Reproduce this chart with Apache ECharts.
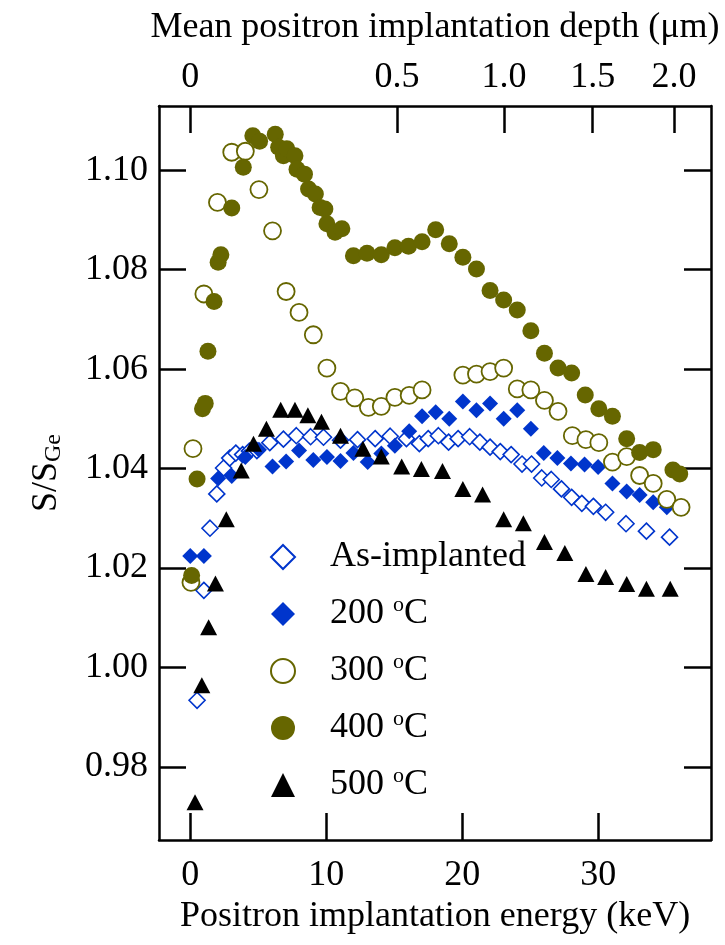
<!DOCTYPE html>
<html>
<head>
<meta charset="utf-8">
<script src="https://cdn.jsdelivr.net/npm/echarts@6/dist/echarts.min.js"></script>
<style>
  html, body { margin: 0; padding: 0; background: #fff; }
  #chart { width: 725px; height: 945px; }
</style>
</head>
<body>
<div id="chart"></div>
<script>
// S/S_Ge vs positron energy (keV)
var asImplanted = [
  [0.5, 0.9934], [1.0, 1.0155], [1.45, 1.028], [1.95, 1.0349], [2.45, 1.0401],
  [2.9, 1.0421], [3.35, 1.0431], [3.85, 1.0428], [4.35, 1.0435], [4.9, 1.0436],
  [5.85, 1.0452], [6.85, 1.0459], [7.8, 1.0466], [8.85, 1.0464], [9.8, 1.0463],
  [11.05, 1.0457], [12.3, 1.0458], [13.6, 1.046], [14.7, 1.0465], [15.9, 1.046],
  [16.85, 1.045], [17.5, 1.046], [18.25, 1.0466], [19.0, 1.0453], [19.7, 1.046],
  [20.55, 1.0464], [21.3, 1.0453], [22.05, 1.0443], [22.8, 1.0434], [23.6, 1.0428],
  [24.4, 1.0409], [25.1, 1.0409], [25.85, 1.0381], [26.55, 1.0378], [27.3, 1.0359],
  [28.05, 1.0342], [28.8, 1.033], [29.65, 1.0324], [30.55, 1.0312], [32.05, 1.0289],
  [33.55, 1.0274], [35.25, 1.0262]
];
var anneal200 = [
  [0, 1.0224], [1.0, 1.0224], [2.05, 1.038], [3.05, 1.0385], [4.05, 1.0423],
  [5.05, 1.0438], [6.05, 1.0404], [7.05, 1.0414], [8.0, 1.0436], [9.05, 1.0417],
  [10.05, 1.0423], [11.05, 1.0415], [12.0, 1.0431], [13.05, 1.0413], [14.05, 1.043],
  [15.05, 1.0446], [16.1, 1.0475], [17.05, 1.0505], [18.05, 1.0513], [19.05, 1.05],
  [20.05, 1.0535], [21.05, 1.0517], [22.05, 1.0531], [23.05, 1.05], [24.05, 1.0517],
  [25.05, 1.048], [26.0, 1.0431], [27.0, 1.0421], [28.0, 1.041], [29.0, 1.0408],
  [30.0, 1.0403], [31.05, 1.037], [32.1, 1.0354], [33.05, 1.0347], [34.05, 1.0332],
  [35.05, 1.0322]
];
var anneal300 = [
  [0.05, 1.0171], [0.2, 1.044], [1.0, 1.0751], [2.0, 1.0935], [3.05, 1.1036],
  [4.05, 1.1038], [5.05, 1.0961], [6.05, 1.0878], [7.05, 1.0756], [8.0, 1.0714],
  [9.05, 1.0669], [10.05, 1.0602], [11.05, 1.0555], [12.1, 1.0542], [13.1, 1.0523],
  [14.05, 1.0525], [15.05, 1.0543], [16.1, 1.0547], [17.05, 1.0558], [20.05, 1.0588],
  [21.05, 1.059], [22.05, 1.0595], [23.05, 1.0602], [24.05, 1.056], [25.05, 1.0558],
  [26.05, 1.0537], [27.05, 1.0515], [28.1, 1.0466], [29.1, 1.0458], [30.05, 1.0452],
  [31.05, 1.0413], [32.1, 1.0424], [33.05, 1.0386], [34.05, 1.037], [35.05, 1.0338],
  [36.1, 1.0322]
];
var anneal400 = [
  [0.1, 1.0185], [0.5, 1.0379], [0.9, 1.052], [1.1, 1.0531], [1.3, 1.0636],
  [1.75, 1.0736], [2.05, 1.0815], [2.25, 1.083], [3.05, 1.0924], [3.9, 1.1006],
  [4.6, 1.1069], [5.1, 1.1058], [6.25, 1.1072], [6.5, 1.1046], [6.85, 1.1029],
  [7.1, 1.1043], [7.7, 1.1029], [7.85, 1.1002], [8.4, 1.0992], [8.7, 1.0962],
  [9.2, 1.0952], [9.55, 1.0925], [9.9, 1.0922], [10.05, 1.0892], [10.65, 1.0875],
  [11.15, 1.0882], [12.0, 1.0828], [13.0, 1.0833], [14.05, 1.083], [15.05, 1.0844],
  [16.05, 1.0847], [17.05, 1.0856], [18.05, 1.088], [19.05, 1.0852], [20.05, 1.0825],
  [21.05, 1.0801], [22.05, 1.0758], [23.05, 1.0739], [24.05, 1.0719], [25.05, 1.0677],
  [26.05, 1.0632], [27.05, 1.0602], [28.05, 1.0592], [29.05, 1.0548], [30.05, 1.052],
  [31.05, 1.0505], [32.1, 1.046], [33.05, 1.0432], [34.05, 1.0438], [35.5, 1.0397],
  [36.0, 1.0389]
];
var anneal500 = [
  [0.35, 0.9729], [0.85, 0.9964], [1.35, 1.0081], [1.85, 1.0169], [2.65, 1.0298],
  [3.75, 1.0396], [4.65, 1.045], [5.6, 1.048], [6.65, 1.0518], [7.7, 1.0518],
  [8.65, 1.0507], [9.65, 1.0494], [11.05, 1.0466], [12.7, 1.044], [14.05, 1.0424],
  [15.55, 1.0404], [17.0, 1.0399], [18.55, 1.0395], [20.05, 1.0359], [21.5, 1.0348],
  [23.05, 1.0298], [24.5, 1.029], [26.05, 1.0252], [27.55, 1.023], [29.1, 1.0188],
  [30.55, 1.0182], [32.1, 1.0168], [33.55, 1.0158], [35.3, 1.0158]
];

var energyTicks = [0, 10, 20, 30];
var sTicks = [0.98, 1.00, 1.02, 1.04, 1.06, 1.08, 1.10];
// top axis: mean depth (um) and the energy it sits at
var depthLabels = ['0', '0.5', '1.0', '1.5', '2.0'];
var depthEnergy = [0, 15.2, 23.07, 29.6, 35.57];

var FONT = '"Liberation Serif", "Times New Roman", serif';
var BLUE = '#0035cc';
var OLIVE = '#666600';

var chart = echarts.init(document.getElementById('chart'));

function frameAxis(extra) {
  return Object.assign({
    type: 'value',
    axisLine: { show: true, onZero: false, lineStyle: { color: '#000', width: 2.5 } },
    splitLine: { show: false },
  }, extra);
}

function ticks(values) {
  return { show: true, inside: true, length: 27, customValues: values, lineStyle: { color: '#000', width: 2.5 } };
}

chart.setOption({
  backgroundColor: '#fff',
  animation: false,
  grid: { left: 159, right: 14, top: 106, bottom: 105 },
  textStyle: { fontFamily: FONT, color: '#000' },
  xAxis: [
    frameAxis({
      position: 'bottom',
      min: -2.3,
      max: 38.3,
      name: 'Positron implantation energy (keV)',
      nameLocation: 'middle',
      nameGap: 58,
      nameTextStyle: { fontSize: 36, color: '#000', fontFamily: FONT },
      axisTick: ticks(energyTicks),
      axisLabel: { customValues: energyTicks, margin: 18, fontSize: 36, color: '#000', fontFamily: FONT },
    }),
    frameAxis({
      position: 'top',
      min: -2.3,
      max: 38.3,
      name: 'Mean positron implantation depth (\u03bcm)',
      nameLocation: 'middle',
      nameGap: 60,
      nameTextStyle: { fontSize: 36, color: '#000', fontFamily: FONT },
      axisTick: ticks(depthEnergy),
      axisLabel: {
        customValues: depthEnergy, margin: 10, fontSize: 36, color: '#000', fontFamily: FONT,
        formatter: function (v) {
          for (var i = 0; i < depthEnergy.length; i++) {
            if (Math.abs(depthEnergy[i] - v) < 1e-6) return depthLabels[i];
          }
          return '';
        }
      },
    }),
  ],
  yAxis: [
    frameAxis({
      position: 'left',
      min: 0.9653,
      max: 1.1129,
      name: 'S/S{sub|Ge}',
      nameLocation: 'middle',
      nameGap: 93,
      nameTextStyle: {
        fontSize: 36, color: '#000', fontFamily: FONT,
        rich: { sub: { fontSize: 24, fontFamily: FONT, padding: [14, 0, 0, 0] } }
      },
      axisTick: ticks(sTicks),
      axisLabel: {
        customValues: sTicks, margin: 11, fontSize: 36, color: '#000', fontFamily: FONT,
        formatter: function (v) { return v.toFixed(2); }
      },
    }),
    frameAxis({
      position: 'right',
      min: 0.9653,
      max: 1.1129,
      axisTick: ticks(sTicks),
      axisLabel: { show: false },
    }),
  ],
  legend: {
    orient: 'vertical',
    left: 265,
    top: 534,
    itemWidth: 24,
    itemHeight: 24,
    itemGap: 19,
    data: ['As-implanted', '200', '300', '400', '500'],
    formatter: function (name) {
      return name === 'As-implanted' ? name : name + ' {sup|o}C';
    },
    textStyle: {
      fontSize: 36, color: '#000', fontFamily: FONT,
      padding: [0, 0, 0, 30],
      rich: { sup: { fontSize: 22, fontFamily: FONT, padding: [0, 0, 18, 0] } }
    },
  },
  series: [
    {
      name: 'As-implanted', type: 'scatter', data: asImplanted,
      symbol: 'diamond', symbolSize: 16,
      itemStyle: { color: '#fff', borderColor: BLUE, borderWidth: 1.6, opacity: 1 },
    },
    {
      name: '200', type: 'scatter', data: anneal200,
      symbol: 'diamond', symbolSize: 16,
      itemStyle: { color: BLUE, opacity: 1 },
    },
    {
      name: '300', type: 'scatter', data: anneal300,
      symbol: 'circle', symbolSize: 17,
      itemStyle: { color: '#fff', borderColor: OLIVE, borderWidth: 1.8, opacity: 1 },
    },
    {
      name: '400', type: 'scatter', data: anneal400,
      symbol: 'circle', symbolSize: 17,
      itemStyle: { color: OLIVE, opacity: 1 },
    },
    {
      name: '500', type: 'scatter', data: anneal500,
      symbol: 'triangle', symbolSize: [17, 16],
      itemStyle: { color: '#000', opacity: 1 },
    },
  ],
});
</script>
</body>
</html>
